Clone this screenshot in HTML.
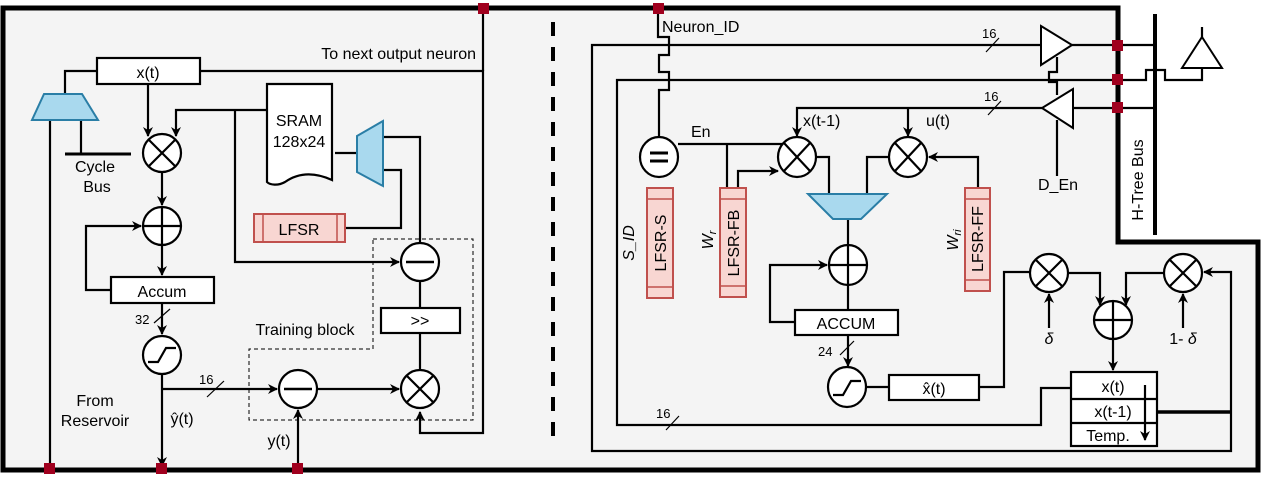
<!DOCTYPE html>
<html><head><meta charset="utf-8"><style>
html,body{margin:0;padding:0;background:#fff;}
svg{display:block;font-family:"Liberation Sans",Arial,sans-serif;}
</style></head><body>
<svg width="1262" height="481" viewBox="0 0 1262 481" xmlns="http://www.w3.org/2000/svg">
<defs>
<marker id="a" markerWidth="10" markerHeight="10" refX="9" refY="5" orient="auto" markerUnits="userSpaceOnUse">
<path d="M0,0 L10,5 L0,10 L3,5 Z" fill="#000"/></marker>
</defs>
<path d="M3,8 H1118 V242 H1258 V470 H3 Z" fill="#f4f4f4"/>
<g fill="none" stroke="#000" stroke-width="2.2">
<rect x="97" y="58" width="103" height="26" fill="#fff"/>
<path d="M65,94 V71 H97"/>
<path d="M200,71 H483 V433 H420 V412" marker-end="url(#a)"/>
<path d="M483,8 V71"/>
<path d="M81,120 V154"/>
<path d="M65,154 H131" stroke-width="3"/>
<path d="M50,120 V468"/>
<path d="M148,84 V136" marker-end="url(#a)"/>
<path d="M267,110 H176 V136" marker-end="url(#a)"/>
<circle cx="162" cy="153" r="19" fill="#fff"/>
<path d="M149,140 L175,166 M175,140 L149,166"/>
<path d="M162,172 V205" marker-end="url(#a)"/>
<circle cx="162" cy="226" r="19" fill="#fff"/>
<path d="M143,226 H181 M162,207 V245"/>
<path d="M111,290 H86 V226 H141" marker-end="url(#a)"/>
<path d="M162,245 V275" marker-end="url(#a)"/>
<rect x="111" y="277" width="103" height="26" fill="#fff"/>
<path d="M162,303 V334" marker-end="url(#a)"/>
<path d="M154,323 L170,309" stroke-width="1.2"/>
<circle cx="162" cy="355" r="19" fill="#fff"/>
<path d="M148,362 H158 L166,348 H176"/>
<path d="M162,374 V466" marker-end="url(#a)"/>
<path d="M162,389 H277" marker-end="url(#a)"/>
<path d="M207,397 L224,381" stroke-width="1.2"/>
<circle cx="298" cy="389" r="19" fill="#fff"/>
<path d="M284,389 H312" stroke-width="2.5"/>
<path d="M298,468 V410" marker-end="url(#a)"/>
<path d="M317,389 H399" marker-end="url(#a)"/>
<circle cx="420" cy="389" r="19" fill="#fff"/>
<path d="M407,376 L433,402 M433,376 L407,402"/>
<path d="M267,84 H332 V180 C310,170 295,175 285,182 C278,186 270,185 267,182 Z" fill="#fff"/>
<path d="M335,153 H357"/>
<path d="M383,137 H420 V243"/>
<path d="M383,170 H401 V228 H345"/>
<path d="M235,110 V262 H399" marker-end="url(#a)"/>
<circle cx="420" cy="262" r="19" fill="#fff"/>
<path d="M406,262 H434" stroke-width="2.5"/>
<path d="M420,281 V308 M420,333 V370"/>
<rect x="381" y="308" width="79" height="25" fill="#fff"/>
<path d="M373,239 H473 V420 H249 V349 H373 Z" stroke-width="1" stroke-dasharray="4,3"/>
</g>
<path d="M44,94 H82 L98,120 H32 Z" fill="#a9d9ee" stroke="#2a7ea6" stroke-width="2"/>
<path d="M357,136 L383,121 V186 L357,172 Z" fill="#a9d9ee" stroke="#2a7ea6" stroke-width="2"/>
<rect x="254" y="214" width="91" height="28" fill="#f8d6d2" stroke="#c0504d" stroke-width="2"/>
<path d="M263,214 V242 M337,214 V242" stroke="#c0504d" stroke-width="1.5"/>
<g font-size="16" fill="#000">
<text x="476" y="59" text-anchor="end">To next output neuron</text>
<text x="148" y="78" text-anchor="middle">x(t)</text>
<text x="299" y="126" text-anchor="middle">SRAM</text>
<text x="299" y="147" text-anchor="middle">128x24</text>
<text x="299" y="235" text-anchor="middle">LFSR</text>
<text x="95" y="172" text-anchor="middle">Cycle</text>
<text x="97" y="192" text-anchor="middle">Bus</text>
<text x="162" y="297" text-anchor="middle">Accum</text>
<text x="420" y="326" text-anchor="middle">&gt;&gt;</text>
<text x="305" y="335" text-anchor="middle">Training block</text>
<text x="95" y="406" text-anchor="middle">From</text>
<text x="95" y="426" text-anchor="middle">Reservoir</text>
<text x="182" y="424" text-anchor="middle">ŷ(t)</text>
<text x="279" y="446" text-anchor="middle">y(t)</text>
<text x="135" y="324" font-size="13">32</text>
<text x="199" y="384" font-size="13">16</text>
</g>
<path d="M553,22 V442" stroke="#000" stroke-width="4" stroke-dasharray="14,11"/>
<g fill="none" stroke="#000" stroke-width="2.2">
<path d="M658,8 V37 H669 V55 H659 V72 H669 V90 H659 V138"/>
<path d="M1041,45 H592 V451 H1231 V272 H1204" marker-end="url(#a)"/>
<path d="M1118,80 H617 V425 H1041 V388 H1071"/>
<path d="M1072,45 H1155"/>
<path d="M1118,80 H1146 V70 H1165 V80 H1202 V68"/>
<path d="M1202,37 V27"/>
<path d="M1155,108 H1073"/>
<path d="M1042,108 H797 V136" marker-end="url(#a)"/>
<path d="M908,108 V136" marker-end="url(#a)"/>
<path d="M1057,57 V72 H1049 V82 H1057 V95 M1057,120 V176"/>
<path d="M1155,14 V235" stroke-width="4"/>
<path d="M986,52 L999,38 M988,115 L1001,101" stroke-width="1.2"/>
<ellipse cx="659" cy="157" rx="19" ry="20" fill="#fff"/>
<path d="M650,153 H668 M650,161 H668" stroke-width="3"/>
<path d="M678,144 H785"/>
<path d="M727,144 V188"/>
<path d="M738,188 V171 H778" marker-end="url(#a)"/>
<ellipse cx="797" cy="157" rx="19" ry="20" fill="#fff"/>
<path d="M784,143 L810,171 M810,143 L784,171"/>
<ellipse cx="908" cy="157" rx="19" ry="20" fill="#fff"/>
<path d="M895,143 L921,171 M921,143 L895,171"/>
<path d="M978,188 V157 H929" marker-end="url(#a)"/>
<path d="M816,157 H829 V194 M889,157 H867 V194"/>
<path d="M848,219 V246"/>
<ellipse cx="848" cy="265" rx="19" ry="20" fill="#fff"/>
<path d="M829,265 H867 M848,245 V285"/>
<path d="M795,322 H770 V265 H827" marker-end="url(#a)"/>
<path d="M848,285 V310"/>
<rect x="795" y="310" width="103" height="25" fill="#fff"/>
<path d="M848,335 V366" marker-end="url(#a)"/>
<path d="M840,355 L854,341" stroke-width="1.2"/>
<ellipse cx="847" cy="387" rx="19" ry="20" fill="#fff"/>
<path d="M833,395 H843 L851,381 H861"/>
<path d="M866,387 H889"/>
<rect x="889" y="375" width="90" height="25" fill="#fff"/>
<path d="M979,387 H1004 V272 H1030"/>
<path d="M666,430 L679,416" stroke-width="1.2"/>
<circle cx="1049" cy="273" r="19" fill="#fff"/>
<path d="M1036,260 L1062,286 M1062,260 L1036,286"/>
<circle cx="1183" cy="273" r="19" fill="#fff"/>
<path d="M1170,260 L1196,286 M1196,260 L1170,286"/>
<path d="M1049,328 V294" marker-end="url(#a)"/>
<path d="M1183,328 V294" marker-end="url(#a)"/>
<path d="M1068,273 H1100 V305" marker-end="url(#a)"/>
<path d="M1164,273 H1126 V305" marker-end="url(#a)"/>
<circle cx="1113" cy="320" r="19" fill="#fff"/>
<path d="M1094,320 H1132 M1113,301 V339"/>
<path d="M1113,339 V370" marker-end="url(#a)"/>
<rect x="1071" y="372" width="86" height="74" fill="#fff"/>
<path d="M1071,399 H1157 M1071,423 H1157"/>
<path d="M1145,385 V440" marker-end="url(#a)"/>
<path d="M1157,412 H1231" stroke-width="3.5"/>
</g>
<path d="M1041,26 L1072,45 L1041,65 Z" fill="#fff" stroke="#000" stroke-width="2"/>
<path d="M1073,89 L1042,108 L1073,128 Z" fill="#fff" stroke="#000" stroke-width="2"/>
<path d="M1202,37 L1222,68 L1182,68 Z" fill="#fff" stroke="#000" stroke-width="2"/>
<path d="M808,194 H887 L861,219 H833 Z" fill="#a9d9ee" stroke="#2a7ea6" stroke-width="2"/>
<g fill="#f8d6d2" stroke="#c0504d" stroke-width="2">
<rect x="647" y="188" width="26" height="110"/>
<rect x="720" y="188" width="26" height="109"/>
<rect x="965" y="188" width="25" height="103"/>
</g>
<path d="M647,199 H673 M647,287 H673 M720,199 H746 M720,286 H746 M965,199 H990 M965,280 H990" stroke="#c0504d" stroke-width="1.5"/>
<g font-size="16" fill="#000">
<text transform="translate(666,243) rotate(-90)" text-anchor="middle">LFSR-S</text>
<text transform="translate(739,243) rotate(-90)" text-anchor="middle">LFSR-FB</text>
<text transform="translate(983,239) rotate(-90)" text-anchor="middle">LFSR-FF</text>
<text transform="translate(634,243) rotate(-90)" text-anchor="middle" font-style="italic">S_ID</text>
<text transform="translate(713,240) rotate(-90)" text-anchor="middle" font-style="italic">W<tspan font-size="11" dy="3">r</tspan></text>
<text transform="translate(958,240) rotate(-90)" text-anchor="middle" font-style="italic">W<tspan font-size="11" dy="3">ri</tspan></text>
<text transform="translate(1143,180) rotate(-90)" text-anchor="middle">H-Tree Bus</text>
<text x="662" y="32">Neuron_ID</text>
<text x="691" y="137">En</text>
<text x="803" y="126">x(t-1)</text>
<text x="926" y="126">u(t)</text>
<text x="1058" y="190" text-anchor="middle">D_En</text>
<text x="846" y="329" text-anchor="middle">ACCUM</text>
<text x="934" y="394" text-anchor="middle">x̂(t)</text>
<text x="1113" y="392" text-anchor="middle">x(t)</text>
<text x="1113" y="417" text-anchor="middle">x(t-1)</text>
<text x="1108" y="441" text-anchor="middle">Temp.</text>
<text x="1049" y="344" text-anchor="middle" font-style="italic">δ</text>
<text x="1183" y="344" text-anchor="middle">1- <tspan font-style="italic">δ</tspan></text>
<text x="818" y="356" font-size="13">24</text>
<text x="982" y="38" font-size="13">16</text>
<text x="984" y="101" font-size="13">16</text>
<text x="656" y="418" font-size="13">16</text>
</g>
<path d="M3,8 H1118 V242 H1258 V470 H3 Z" fill="none" stroke="#000" stroke-width="5"/>
<g fill="#a0001e">
<rect x="478" y="3" width="11" height="11"/>
<rect x="653" y="3" width="11" height="11"/>
<rect x="44" y="463" width="11" height="11"/>
<rect x="156" y="463" width="11" height="11"/>
<rect x="292" y="463" width="11" height="11"/>
<rect x="1112" y="40" width="11" height="11"/>
<rect x="1112" y="74" width="11" height="11"/>
<rect x="1112" y="102" width="11" height="11"/>
</g>
</svg>
</body></html>
